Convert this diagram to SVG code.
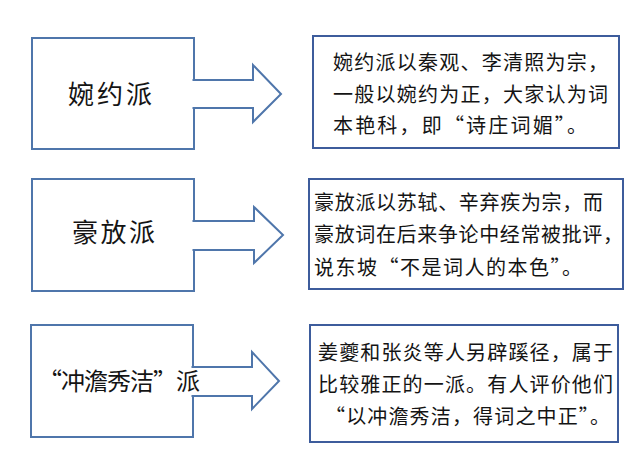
<svg xmlns="http://www.w3.org/2000/svg" width="640" height="475" viewBox="0 0 640 475">
<style>
.src{fill:#fff;stroke:#4f76ab;stroke-width:2}
.dst{fill:#fff;stroke:#3d5c9c;stroke-width:2}
.arr{fill:#fff;stroke:#4f76ab;stroke-width:2;stroke-linejoin:miter}
.t{font-family:"Noto Sans CJK SC","Noto Sans CJK TC",sans-serif;fill:#141414}
.big{font-size:26px}
.small{font-size:20px}
</style>
<rect width="640" height="475" fill="#fff"/>
<g id="node-wanyue">
<rect class="src" x="32" y="38" width="162" height="111"/>
<text class="t big" x="68" y="104" textLength="84" lengthAdjust="spacing">婉约派</text>
</g>
<g id="node-haofang">
<rect class="src" x="32" y="179" width="162" height="112"/>
<text class="t big" x="72" y="242" textLength="83" lengthAdjust="spacing">豪放派</text>
</g>
<g id="node-chongdan">
<rect class="src" x="31" y="325" width="162" height="112"/>
</g>
<g id="connectors">
<path class="arr" d="M192.5,80 H253 V65 L281,94 L253,122 V108 H192.5"/>
<path class="arr" d="M192.5,221 H254 V207 L283,235 L254,263 V250 H192.5"/>
<path class="arr" d="M191.5,367 H252 V352 L279,381 L252,409 V396 H191.5"/>
</g>
<g id="label-chongdan">
<text class="t" style="font-size:24px" x="38" y="390" textLength="162" lengthAdjust="spacing">“冲澹秀洁”派</text>
</g>
<g id="desc-wanyue">
<rect class="dst" x="313" y="36" width="306" height="112"/>
<text class="t small" x="333" y="70">
<tspan x="333" y="70" textLength="275" lengthAdjust="spacing">婉约派以秦观、李清照为宗，</tspan>
<tspan x="333" y="102" textLength="275" lengthAdjust="spacing">一般以婉约为正，大家认为词</tspan>
<tspan x="333" y="133" textLength="254" lengthAdjust="spacing">本艳科，即“诗庄词媚”。</tspan>
</text>
</g>
<g id="desc-haofang">
<rect class="dst" x="309" y="179" width="314" height="110"/>
<text class="t small">
<tspan x="314" y="210" textLength="289" lengthAdjust="spacing">豪放派以苏轼、辛弃疾为宗，而</tspan>
<tspan x="314" y="242" textLength="309" lengthAdjust="spacing">豪放词在后来争论中经常被批评，</tspan>
<tspan x="314" y="275" textLength="268" lengthAdjust="spacing">说东坡“不是词人的本色”。</tspan>
</text>
</g>
<g id="desc-chongdan">
<rect class="dst" x="310" y="325" width="308" height="117"/>
<text class="t small">
<tspan x="318" y="360" textLength="295" lengthAdjust="spacing">姜夔和张炎等人另辟蹊径，属于</tspan>
<tspan x="318" y="392" textLength="295" lengthAdjust="spacing">比较雅正的一派。有人评价他们</tspan>
<tspan x="325" y="424" textLength="285" lengthAdjust="spacing">“以冲澹秀洁，得词之中正”。</tspan>
</text>
</g>
</svg>
